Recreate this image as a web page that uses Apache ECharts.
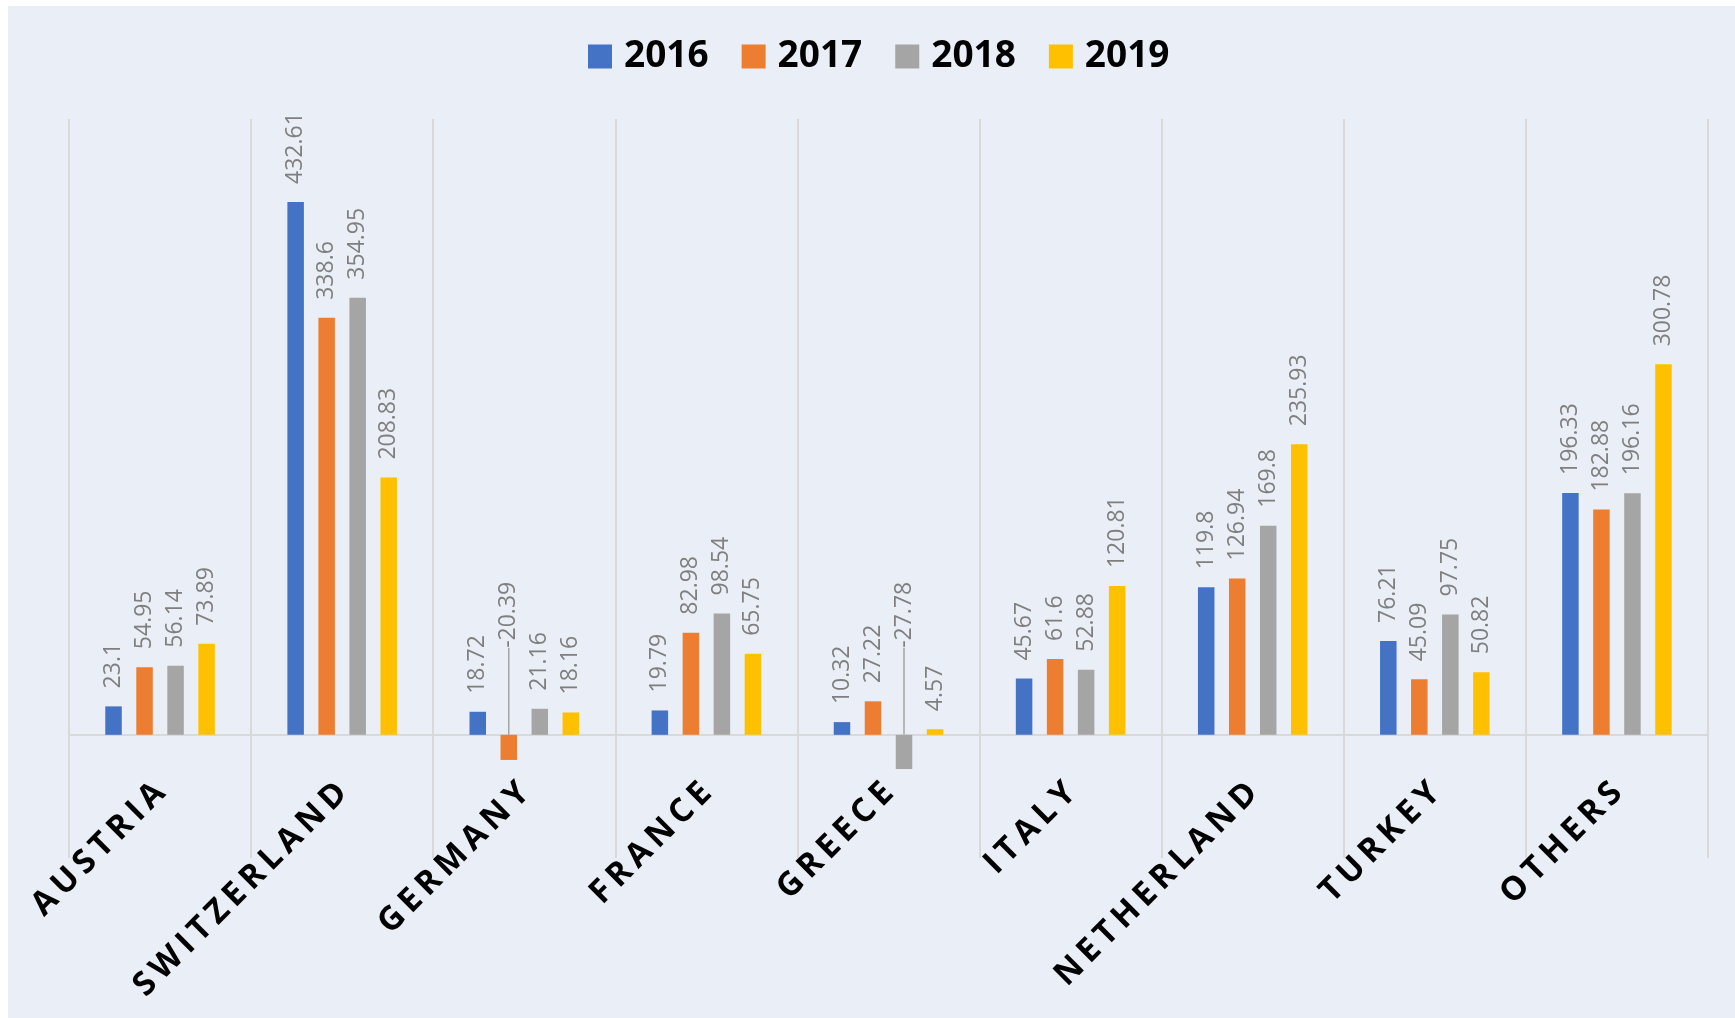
<!DOCTYPE html>
<html>
<head>
<meta charset="utf-8">
<script src="https://cdn.jsdelivr.net/npm/echarts@6/dist/echarts.min.js"></script>
<style>
  html, body { margin: 0; padding: 0; background: #ffffff; }
  #main { position: absolute; left: 8px; top: 6px; width: 1727px; height: 1012px; }
</style>
</head>
<body>
<div id="main"></div>
<script>
var countries = ['AUSTRIA', 'SWITZERLAND', 'GERMANY', 'FRANCE', 'GREECE', 'ITALY', 'NETHERLAND', 'TURKEY', 'OTHERS'];
var years = ['2016', '2017', '2018', '2019'];
var v2016 = [23.1, 432.61, 18.72, 19.79, 10.32, 45.67, 119.8, 76.21, 196.33];
var v2017 = [54.95, 338.6, -20.39, 82.98, 27.22, 61.6, 126.94, 45.09, 182.88];
var v2018 = [56.14, 354.95, 21.16, 98.54, -27.78, 52.88, 169.8, 97.75, 196.16];
var v2019 = [73.89, 208.83, 18.16, 65.75, 4.57, 120.81, 235.93, 50.82, 300.78];
var colors = ['#4472c4', '#ed7d31', '#a5a5a5', '#ffc000'];

// negative values get their label pushed up with a leader line, like excel does
function toData(list) {
    return list.map(function (v) {
        if (v < 0) {
            return {
                value: v,
                label: { distance: 87 },
                labelLine: { show: true, lineStyle: { color: '#a5a5a5', width: 1.5 } }
            };
        }
        return v;
    });
}

function makeSeries(name, list) {
    return {
        name: name,
        type: 'bar',
        barWidth: 16.5,
        barGap: '88%',
        data: toData(list),
        label: {
            show: true,
            position: 'top',
            rotate: 90,
            align: 'left',
            verticalAlign: 'middle',
            distance: 18,
            color: '#7f7f7f',
            fontFamily: 'Open Sans',
            fontSize: 23
        }
    };
}

var series = [
    makeSeries(years[0], v2016),
    makeSeries(years[1], v2017),
    makeSeries(years[2], v2018),
    makeSeries(years[3], v2019)
];

var option = {
    backgroundColor: '#eaeff7',
    animation: false,
    color: colors,
    legend: {
        left: 575,
        top: 27,
        icon: 'rect',
        itemWidth: 24,
        itemHeight: 24,
        itemGap: 33,
        data: years,
        textStyle: {
            fontFamily: 'Open Sans',
            fontWeight: 'bold',
            fontSize: 37,
            color: '#000000',
            padding: [0, 0, 0, 7]
        }
    },
    grid: {
        left: 61,
        right: 27,
        top: 113,
        bottom: 160,
        outerBoundsMode: 'none'
    },
    xAxis: {
        type: 'category',
        data: countries,
        axisLine: { onZero: true, lineStyle: { color: '#d9d9d9', width: 2 } },
        axisTick: { show: false },
        splitLine: { show: true, lineStyle: { color: '#d9d9d9', width: 2 } },
        axisLabel: {
            rotate: 45,
            margin: -70,
            interval: 0,
            color: '#000000',
            fontFamily: 'Open Sans',
            fontWeight: 'bold',
            fontSize: 33,
            formatter: function (s) { return s.split('').join('\u2006'); }
        }
    },
    yAxis: {
        type: 'value',
        min: -100,
        max: 500,
        interval: 100,
        show: false
    },
    series: series
};

var dom = document.getElementById('main');
var myChart = echarts.init(dom);
myChart.setOption(option, true);
</script>
</body>
</html>
